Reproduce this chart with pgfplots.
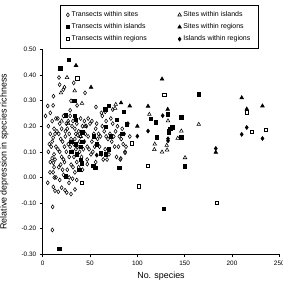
\documentclass[border=0pt]{standalone}
\usepackage{fontspec}
\setmainfont{Liberation Sans}
\usepackage{pgfplots}
\pgfplotsset{compat=1.18}
\pgfplotsset{
  mk/.style={only marks, line width=0.55pt,
    legend image code/.code={\draw[mark repeat=2,mark phase=2,##1] plot coordinates {(0pt,0pt)(4pt,0pt)(8pt,0pt)};}},
}
\begin{document}
\begin{tikzpicture}
\begin{axis}[
  scale only axis, width=236.6pt, height=205pt,
  at={(0pt,0pt)}, anchor=south west,
  xmin=0, xmax=250, ymin=-0.3, ymax=0.5,
  axis lines=left, axis line style={-, line width=0.6pt},
  tick align=outside, major tick length=3pt, tick style={line width=0.5pt, black},
  xtick={0,50,100,150,200,250},
  ytick={-0.3,-0.2,-0.1,0,0.1,0.2,0.3,0.4,0.5},
  /pgf/number format/assume math mode=true,
  ticklabel style={font=\fontsize{6.4}{7}\selectfont},
  yticklabel style={/pgf/number format/.cd, fixed, fixed zerofill, precision=2},
  xlabel={No. species}, ylabel={Relative depression in species richness},
  label style={font=\fontsize{8.9}{10}\selectfont},
  xlabel style={at={(axis description cs:0.5,-0.109)}, anchor=center},
  ylabel style={at={(axis description cs:-0.162,0.5)}, anchor=center},
  legend columns=2,
  legend style={at={(rel axis cs:0.0731,1.214)}, anchor=north west,
    draw=black, line width=0.4pt, font=\fontsize{7}{8}\selectfont,
    inner xsep=6pt, inner ysep=4pt, row sep=1.5pt,
    /tikz/column 2/.style={column sep=29pt}},
  legend cell align=left,
]
\addplot[mk, mark=diamond, mark size=2pt, mark options={draw=black, fill=white}] table {
x y
17.2 0.390
17.9 0.362
32.8 0.369
21.8 0.343
23.0 0.352
11.4 0.317
29.9 0.299
44.7 0.330
5.3 0.279
11.0 0.281
36.3 0.281
56.3 0.275
29.0 0.262
62.0 0.252
66.0 0.256
74.0 0.265
3.0 0.240
8.0 0.252
14 0.230
10 0.220
6 0.20
8 0.17
10 0.14
12 0.19
14 0.12
7 0.13
9 0.12
11 0.155
13 0.17
15 0.18
6 0.10
12 0.09
10 0.075
13 0.07
8 0.06
16 0.23
18 0.21
20 0.19
22 0.24
17 0.17
19 0.15
21 0.14
23 0.12
16 0.11
18 0.10
20 0.08
22 0.07
24 0.18
24 0.16
19 0.05
21 0.03
23 0.06
17 0.04
25 0.10
25 0.21
26 0.19
28 0.17
30 0.15
32 0.22
27 0.13
29 0.12
31 0.10
33 0.08
35 0.17
34 0.19
28 0.08
30 0.05
32 0.04
34 0.02
26 0.03
28 0.0
33 0.13
35 0.11
27 0.22
31 0.20
29 0.24
34 0.15
36 0.21
38 0.18
40 0.16
42 0.20
44 0.14
37 0.12
39 0.10
41 0.08
43 0.11
45 0.17
36 0.06
38 0.04
42 0.03
44 0.22
40 0.23
39 0.14
37 0.165
46 0.20
48 0.16
50 0.21
52 0.14
54 0.17
56 0.19
58 0.15
47 0.12
49 0.11
51 0.09
53 0.10
55 0.12
57 0.21
59 0.17
48 0.23
52 0.22
47 0.07
56 0.06
60 0.12
61 0.16
63 0.20
65 0.18
67 0.16
69 0.15
71 0.17
73 0.14
75 0.16
77 0.18
79 0.20
62 0.09
64 0.07
66 0.11
68 0.07
70 0.09
72 0.23
74 0.21
76 0.12
78 0.08
63 0.24
67 0.22
81 0.16
83 0.15
85 0.13
87 0.10
82 0.07
84 0.19
86 0.17
88 0.12
90 0.21
92 0.16
80 0.12
5.3 -0.021
7.7 0.020
11.2 0.057
12.0 0.040
11.0 0.020
12.3 0.000
11.2 -0.037
13.0 -0.052
16.5 -0.056
20.0 -0.040
23.6 -0.050
25.4 -0.059
29.9 -0.065
34.1 -0.047
27.8 -0.021
31.5 -0.005
10.2 -0.205
10.5 -0.115
47.1 0.052
82.5 0.074
87.0 0.096
14 0.000
18 -0.010
22 0.010
36 -0.010
};
\addlegendentry{Transects within sites}
\addplot[mk, mark=triangle, mark size=2.1pt, mark options={draw=black, fill=white}] table {
x y
25.7 0.390
19.3 0.330
33.8 0.338
41.5 0.289
77.2 0.285
76.4 0.270
112.7 0.246
132.4 0.221
146.5 0.181
142.7 0.153
118.4 0.130
118.0 0.109
131.0 0.125
131.4 0.107
126.1 0.099
164.9 0.207
150.4 0.077
27 0.21
40 0.16
45 0.20
20 0.22
};
\addlegendentry{Sites within islands}
\addplot[mk, mark=square*, mark size=1.7pt, mark options={draw=black, fill=black}] table {
x y
27.8 0.458
18.6 0.426
33.4 0.300
69.8 0.279
66.2 0.266
85.6 0.256
78.2 0.225
89.1 0.208
119.4 0.215
114.5 0.230
132.1 0.246
146.5 0.234
165.2 0.324
136.7 0.195
134.6 0.189
133.2 0.180
120.5 0.157
146.5 0.157
150.4 0.043
128.2 -0.123
17.6 -0.279
24.6 0.005
38.7 0.031
41.2 0.055
53.5 0.045
55.6 0.038
61.6 0.094
66.9 0.091
69.8 0.110
81.0 0.038
24.3 0.243
33.8 0.241
34.9 0.224
41.9 0.176
66.6 0.198
30 0.14
35 0.13
40 0.12
42 0.14
30 0.10
40 0.07
36 0.09
54 0.16
57 0.13
72 0.16
84 0.17
};
\addlegendentry{Transects within islands}
\addplot[mk, mark=triangle*, mark size=2.1pt, mark options={draw=black, fill=black}] table {
x y
35.2 0.437
51.1 0.352
126.1 0.384
111.3 0.278
132.1 0.266
82.8 0.291
92.0 0.279
100.0 0.200
210.3 0.311
215.6 0.267
232.2 0.279
182.9 0.098
};
\addlegendentry{Sites within regions}
\addplot[mk, mark=square, mark size=1.7pt, mark options={draw=black, fill=white}] table {
x y
36.6 0.387
128.5 0.323
111.3 0.045
101.4 -0.034
184.2 -0.100
215.6 0.254
220.9 0.179
236.0 0.185
41.5 -0.021
94.1 0.133
133.0 0.175
};
\addlegendentry{Transects within regions}
\addplot[mk, mark=diamond*, mark size=2pt, mark options={draw=black, fill=black}] table {
x y
126.8 0.241
111.3 0.181
132.4 0.151
132.4 0.143
215.6 0.195
210.3 0.168
232.2 0.152
182.9 0.113
57.1 0.087
100.0 0.161
};
\addlegendentry{Islands within regions}
\end{axis}
\pgfresetboundingbox
\useasboundingbox (-42.7pt,-27.7pt) rectangle (240.3pt,254.3pt);
\end{tikzpicture}
\end{document}
